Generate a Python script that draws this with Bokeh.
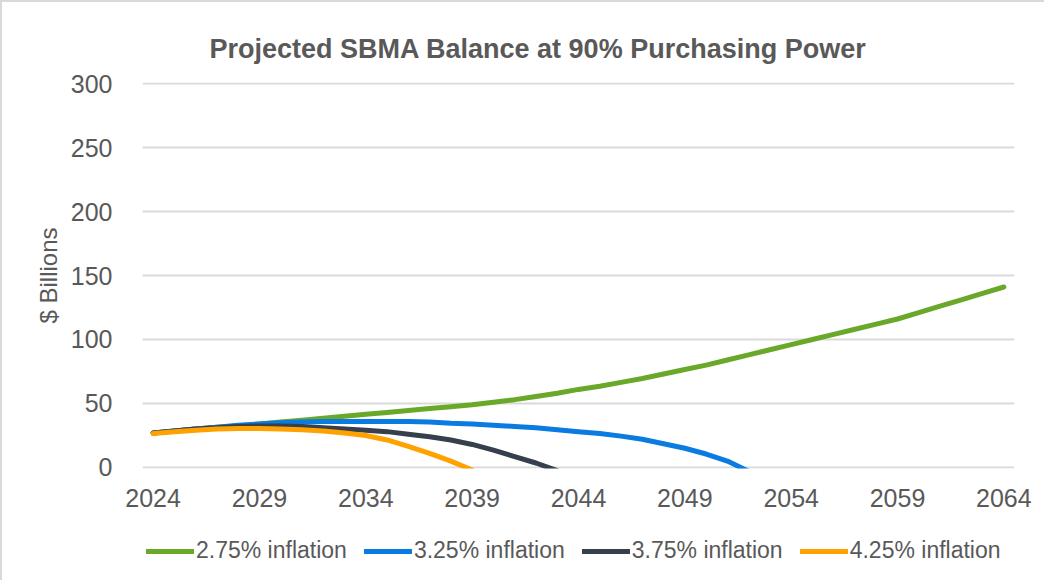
from bokeh.plotting import figure
from bokeh.models import Legend, LegendItem, FixedTicker, Range1d
from bokeh.layouts import column
from bokeh.embed import file_html
from bokeh.resources import INLINE

years = list(range(2024, 2065))

infl_275 = [27, 28.5, 30, 31.5, 32.5, 34, 35.5, 37, 38.5, 40, 41.5, 43, 44.5, 46, 47.5,
            49, 51, 53, 55.5, 58, 61, 63.5, 66.5, 69.5, 73, 76.5, 80, 84, 88, 92,
            96, 100, 104, 108, 112, 116, 121, 126, 131, 136, 141]
infl_325 = [27, 28.5, 30, 31.5, 33, 34, 35, 35.5, 36, 36, 36, 36, 36, 35.5, 34.5,
            34, 33, 32, 31, 29.5, 28, 26.5, 24.5, 22, 18.5, 15, 10.5, 5, -3]
infl_375 = [27, 28.5, 30, 31, 32, 32.5, 32.5, 32, 31, 30, 29, 28, 26, 24, 21.5,
            18, 13.5, 8.5, 3.5, -2.5]
infl_425 = [26.5, 28, 29, 30, 30.5, 30.5, 30, 29.5, 28.5, 27, 25, 21.5, 16.5, 11, 5, -2]

series_names = ["2.75% inflation", "3.25% inflation", "3.75% inflation", "4.25% inflation"]
series_vals = [infl_275, infl_325, infl_375, infl_425]
colors = ["#6AA829", "#0A7BE0", "#36404D", "#FFA200"]

x_ticks = list(range(2024, 2065, 5))
y_ticks = list(range(0, 301, 50))

FONT = "Liberation Sans"
TXT = "#595959"

p = figure(width=1042, height=522, output_backend="svg", toolbar_location=None,
           x_range=Range1d(2023.5, 2064.5), y_range=Range1d(-0.8, 300.8),
           min_border_left=140, min_border_right=30, min_border_top=80,
           min_border_bottom=56)

p.title.text = "Projected SBMA Balance at 90% Purchasing Power"
p.title.text_font = FONT
p.title.text_font_size = "27px"
p.title.text_font_style = "bold"
p.title.text_color = TXT
p.title.align = "left"
p.title.offset = 67
p.title.standoff = 37

p.outline_line_color = None
p.xgrid.grid_line_color = None
p.ygrid.grid_line_color = "#D9D9D9"
p.ygrid.grid_line_width = 2
p.ygrid.ticker = FixedTicker(ticks=y_ticks)

p.xaxis.ticker = FixedTicker(ticks=x_ticks)
p.yaxis.ticker = FixedTicker(ticks=y_ticks)
for ax in (p.xaxis[0], p.yaxis[0]):
    ax.axis_line_color = None
    ax.major_tick_line_color = None
    ax.minor_tick_line_color = None
    ax.major_tick_out = 0
    ax.major_tick_in = 0
    ax.major_label_text_font = FONT
    ax.major_label_text_font_size = "25px"
    ax.major_label_text_color = TXT
p.xaxis.major_label_standoff = 20
p.yaxis.major_label_standoff = 30
p.yaxis.axis_label = "$ Billions"
p.yaxis.axis_label_text_font = FONT
p.yaxis.axis_label_text_font_size = "24px"
p.yaxis.axis_label_text_font_style = "normal"
p.yaxis.axis_label_text_color = TXT
p.yaxis.axis_label_standoff = 6

for vals, col in zip(series_vals, colors):
    p.line(years[:len(vals)], vals, line_color=col, line_width=5,
           line_cap="round", line_join="round")

# legend strip below the chart (its ranges keep the series themselves out of view)
pl = figure(width=1042, height=56, output_backend="svg", toolbar_location=None,
            x_range=Range1d(0, 1), y_range=Range1d(0, 1),
            x_axis_location=None, y_axis_location=None,
            min_border=0)
pl.outline_line_color = None
pl.grid.visible = False
items = []
for name, vals, col in zip(series_names, series_vals, colors):
    r = pl.line(years[:len(vals)], vals, line_color=col, line_width=5, line_cap="round")
    items.append(LegendItem(label=name, renderers=[r]))
legend = Legend(items=items, orientation="horizontal", location=(4, 16),
                glyph_width=48, glyph_height=20, label_standoff=2, spacing=17,
                padding=0, margin=0, border_line_color=None, background_fill_alpha=0,
                label_text_font=FONT, label_text_font_size="23px", label_text_color=TXT)
pl.add_layout(legend, "center")

layout = column(p, pl, spacing=0)
layout.styles = {"border-left": "2px solid #D9D9D9", "border-top": "2px solid #D9D9D9"}

open("out.html", "w").write(file_html(layout, INLINE))
